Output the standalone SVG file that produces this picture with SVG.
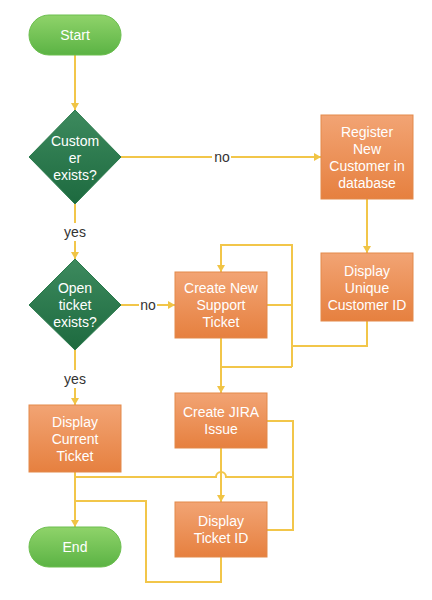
<svg xmlns="http://www.w3.org/2000/svg" width="432" height="600" viewBox="0 0 432 600">
<defs>
<linearGradient id="gGreen" x1="0" y1="0" x2="0" y2="1"><stop offset="0" stop-color="#8fd36a"/><stop offset="1" stop-color="#5bb344"/></linearGradient>
<linearGradient id="gDark" x1="0" y1="0" x2="0" y2="1"><stop offset="0" stop-color="#3d8a5e"/><stop offset="1" stop-color="#1d6a3f"/></linearGradient>
<linearGradient id="gOrange" x1="0" y1="0" x2="0" y2="1"><stop offset="0" stop-color="#f2a474"/><stop offset="1" stop-color="#e6803f"/></linearGradient>
<marker id="arr" viewBox="0 0 7 8" refX="7" refY="4" markerWidth="7" markerHeight="8" orient="auto" markerUnits="userSpaceOnUse">
<path d="M0,0 L7,4 L0,8 z" fill="#f0c445"/>
</marker>
<style>
.pill{fill:url(#gGreen);stroke:#6cbf4f;stroke-width:1}
.dia{fill:url(#gDark);stroke:#2a7a4c;stroke-width:1}
.box{fill:url(#gOrange);stroke:#e3894a;stroke-width:1}
.t{font-family:"Liberation Sans",Arial,sans-serif;font-size:14px;fill:#fff;text-anchor:middle;dominant-baseline:central}
.lbl{font-family:"Liberation Sans",Arial,sans-serif;font-size:14px;fill:#333;text-anchor:middle;dominant-baseline:central}
.c{fill:none;stroke:#f2c64a;stroke-width:2}
</style>
</defs>
<rect width="432" height="600" fill="#fff"/>

<g id="connectors">
<path class="c" d="M75,55 V110" marker-end="url(#arr)"/>
<path class="c" d="M120,157 H212"/>
<path class="c" d="M231,157 H321" marker-end="url(#arr)"/>
<path class="c" d="M367,199 V253" marker-end="url(#arr)"/>
<path class="c" d="M75,204 V223"/>
<path class="c" d="M75,241 V259" marker-end="url(#arr)"/>
<path class="c" d="M120,305 H139"/>
<path class="c" d="M157,305 H175" marker-end="url(#arr)"/>
<path class="c" d="M75,350 V370"/>
<path class="c" d="M75,388 V405" marker-end="url(#arr)"/>
<path class="c" d="M367,321 V346 H292"/>
<path class="c" d="M267,305 H292"/>
<path class="c" d="M292,367 V245 H221 V272" marker-end="url(#arr)"/>
<path class="c" d="M292,367 H221"/>
<path class="c" d="M221,338 V393" marker-end="url(#arr)"/>
<path class="c" d="M267,421 H293 V530 H267"/>
<path class="c" d="M75,477 H216 A5,5 0 0 1 226,477 H293"/>
<path class="c" d="M221,448 V502" marker-end="url(#arr)"/>
<path class="c" d="M75,472 V527" marker-end="url(#arr)"/>
<path class="c" d="M221,557 V582 H146 V501 H75"/>
<text class="lbl" x="222" y="157">no</text>
<text class="lbl" x="75" y="232">yes</text>
<text class="lbl" x="148" y="305">no</text>
<text class="lbl" x="75" y="379">yes</text>
</g>

<g id="start">
<rect class="pill" x="29" y="15" width="92" height="40" rx="20"/>
<text class="t" x="75" y="35">Start</text>
</g>

<g id="customer-exists">
<path class="dia" d="M75,110 L121,157 L75,204 L29,157 z"/>
<text class="t" x="75" y="141">Custom</text>
<text class="t" x="75" y="158">er</text>
<text class="t" x="75" y="175">exists?</text>
</g>

<g id="register">
<rect class="box" x="321" y="115" width="92" height="84"/>
<text class="t" x="367" y="132">Register</text>
<text class="t" x="367" y="149">New</text>
<text class="t" x="367" y="166">Customer in</text>
<text class="t" x="367" y="183">database</text>
</g>

<g id="display-unique">
<rect class="box" x="321" y="253" width="92" height="68"/>
<text class="t" x="367" y="271">Display</text>
<text class="t" x="367" y="288">Unique</text>
<text class="t" x="367" y="305">Customer ID</text>
</g>

<g id="open-ticket">
<path class="dia" d="M75,259 L121,305 L75,350 L29,305 z"/>
<text class="t" x="75" y="288">Open</text>
<text class="t" x="75" y="305">ticket</text>
<text class="t" x="75" y="322">exists?</text>
</g>

<g id="create-ticket">
<rect class="box" x="175" y="272" width="92" height="66"/>
<text class="t" x="221" y="288">Create New</text>
<text class="t" x="221" y="305">Support</text>
<text class="t" x="221" y="322">Ticket</text>
</g>

<g id="create-jira">
<rect class="box" x="175" y="393" width="92" height="55"/>
<text class="t" x="221" y="412">Create JIRA</text>
<text class="t" x="221" y="429">Issue</text>
</g>

<g id="display-current">
<rect class="box" x="29" y="405" width="92" height="67"/>
<text class="t" x="75" y="422">Display</text>
<text class="t" x="75" y="439">Current</text>
<text class="t" x="75" y="456">Ticket</text>
</g>

<g id="display-ticket-id">
<rect class="box" x="175" y="502" width="92" height="55"/>
<text class="t" x="221" y="521">Display</text>
<text class="t" x="221" y="538">Ticket ID</text>
</g>

<g id="end">
<rect class="pill" x="29" y="527" width="92" height="40" rx="20"/>
<text class="t" x="75" y="547">End</text>
</g>
</svg>
